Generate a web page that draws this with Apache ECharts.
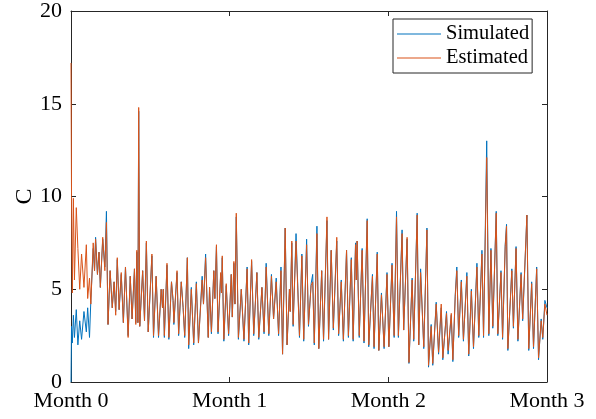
<!DOCTYPE html>
<html>
<head>
<meta charset="utf-8">
<script src="https://cdn.jsdelivr.net/npm/echarts@6/dist/echarts.min.js"></script>
<style>html,body{margin:0;background:#fff}#main{width:596px;height:419px}</style>
</head>
<body>
<div id="main"></div>
<script>
// time in days (0 .. 90 = three months)
var days = [
  0, 0.1, 0.25, 0.45, 0.65, 1.0, 1.3, 1.65, 2.0, 2.45, 2.9, 3.15, 3.5, 3.75, 4.2, 4.45, 4.65, 5.0, 5.3, 5.55,
  6.0, 6.4, 6.7, 7.0, 7.4, 7.8, 8.15, 8.45, 8.75, 9.1, 9.5, 9.9, 10.3, 10.8, 11.2, 11.55, 12.0, 12.25, 12.45, 12.65, 12.8, 13.0,
  13.55, 13.9, 14.25, 14.6, 15.3, 15.6, 16.1, 16.55, 17.05, 17.3, 17.45, 17.65, 18.15, 18.5, 19.0, 19.3, 19.45, 20.05, 20.35, 20.85,
  21.2, 21.5, 22.0, 22.25, 22.75, 23.2, 23.7, 24.1, 24.8, 25.05, 25.45, 25.95,
  26.2, 26.55, 27.0, 27.2, 27.5, 27.8, 28.3, 28.45, 28.6, 28.9, 29.35, 29.8, 30.3, 30.5, 30.8, 31.0, 31.25, 31.65, 32.2, 32.7,
  33.3, 33.6, 34.15, 34.55, 35.15, 35.5, 36.1, 36.5, 36.9, 37.4, 37.9, 38.3, 38.8, 39.25,
  39.7, 40.0, 40.5, 40.85, 41.3, 41.45, 41.75, 42.0, 42.55, 43.2, 43.65, 44.0, 44.55, 44.9, 45.4, 45.7, 46.0, 46.5, 46.85, 47.4,
  47.75, 48.4, 48.7, 49.2, 49.6, 50.25, 50.6, 51.1, 51.5, 52.1, 52.45,
  53.0, 53.35, 53.8, 53.95, 54.1, 54.5, 55.05, 55.4, 56.0, 56.3, 57.0, 57.3, 57.9, 58.2, 58.7, 59.2, 59.75, 60.1, 60.7, 61.1,
  61.55, 61.9, 62.6, 62.9, 63.55, 63.9, 64.5, 64.8, 65.45, 65.75,
  66.1, 66.7, 67.3, 67.6, 68.1, 68.4, 69.05, 69.5, 70.0, 70.3, 71.0, 71.3, 71.9, 72.2, 72.65, 72.95, 73.3, 73.8, 74.2, 74.85,
  75.2, 75.7, 76.1, 76.75, 77.1, 77.7, 78.0, 78.6, 79.0,
  79.4, 79.75, 80.4, 80.7, 81.3, 81.6, 82.1, 82.35, 82.6, 83.35, 83.65, 84.15, 84.5, 85.1, 85.4, 86.2, 86.55, 87.1, 87.45, 88.05,
  88.4, 88.9, 89.2, 89.6, 90.0
];
var simulated = [
  0.0, 3.0, 2.1, 3.6, 2.4, 3.9, 2.0, 3.3, 2.3, 3.8, 2.7, 4.0, 2.4, 4.4, 7.2, 6.0, 7.8, 5.8, 7.0, 5.1,
  7.7, 6.2, 9.2, 3.1, 6.0, 4.0, 5.4, 3.8, 6.6, 3.9, 5.8, 3.2, 6.2, 2.5, 5.7, 3.4, 6.1, 3.2, 7.0, 3.2, 14.6, 3.0,
  6.0, 3.3, 7.5, 2.7, 6.8, 2.4, 5.7, 2.4, 5.0, 4.0, 5.0, 2.4, 6.3, 2.3, 5.4, 4.4, 3.1, 5.9, 2.5, 5.4,
  4.0, 2.4, 6.7, 1.8, 5.1, 2.0, 5.4, 2.1, 5.7, 4.2, 6.9, 2.4,
  5.1, 2.6, 6.0, 4.5, 7.3, 2.6, 5.8, 4.8, 6.7, 2.2, 5.2, 2.5, 5.8, 3.5, 6.4, 4.2, 8.9, 2.3, 5.0, 2.2,
  6.2, 2.0, 6.5, 2.5, 5.9, 2.3, 5.1, 2.6, 6.4, 2.5, 5.8, 3.4, 5.6, 2.5,
  6.2, 1.5, 8.3, 2.0, 5.0, 3.8, 7.5, 3.0, 8.0, 2.4, 6.9, 2.2, 7.7, 3.0, 5.3, 5.8, 2.0, 8.4, 1.8, 6.0,
  2.2, 8.7, 2.3, 7.1, 2.8, 7.6, 2.5, 5.5, 2.2, 7.1, 2.4,
  6.7, 2.2, 7.5, 5.5, 7.6, 2.4, 7.2, 2.1, 8.8, 1.9, 5.8, 1.8, 7.0, 1.7, 4.8, 1.8, 5.9, 1.9, 6.4, 2.4,
  9.2, 2.4, 8.2, 2.8, 7.7, 1.0, 5.6, 2.2, 9.1, 2.0,
  6.1, 1.8, 8.3, 0.8, 3.1, 0.9, 4.3, 1.5, 4.0, 1.2, 3.8, 1.5, 3.6, 1.1, 4.7, 6.2, 2.4, 5.5, 2.2, 5.9,
  1.4, 5.0, 1.8, 6.4, 2.4, 7.1, 2.4, 13.0, 2.5,
  7.2, 2.9, 9.2, 2.5, 6.0, 2.3, 7.4, 8.5, 1.7, 6.1, 2.9, 7.3, 2.2, 5.9, 3.3, 9.0, 1.7, 5.4, 1.8, 6.2,
  1.2, 3.4, 2.3, 4.4, 4.0
];
var estimated = [
  17.2, 10.0, 4.8, 9.9, 5.5, 9.4, 7.2, 5.0, 6.9, 5.1, 7.4, 4.5, 5.6, 4.2, 7.5, 6.0, 7.7, 5.8, 7.0, 5.1,
  7.8, 6.0, 8.6, 3.1, 6.0, 4.0, 5.4, 3.6, 6.7, 3.9, 5.9, 3.2, 6.2, 2.4, 5.7, 3.4, 6.1, 3.1, 7.1, 3.2, 14.8, 3.0,
  6.0, 3.3, 7.6, 2.7, 6.9, 2.5, 5.7, 2.5, 5.0, 4.0, 5.0, 2.5, 6.4, 2.4, 5.4, 4.4, 3.2, 6.0, 2.6, 5.4,
  4.0, 2.5, 6.7, 2.0, 5.0, 2.1, 5.3, 2.1, 5.5, 4.2, 6.7, 2.4,
  5.1, 2.7, 6.0, 4.5, 7.4, 2.7, 5.9, 4.8, 6.8, 2.3, 5.3, 2.6, 5.8, 3.5, 6.5, 4.2, 9.1, 2.4, 5.0, 2.3,
  6.1, 2.1, 6.6, 2.6, 5.9, 2.4, 5.1, 2.7, 6.2, 2.6, 5.7, 3.4, 5.4, 2.6,
  6.0, 1.5, 8.3, 2.0, 5.0, 3.8, 7.6, 3.1, 7.6, 2.5, 6.8, 2.3, 7.4, 3.1, 5.2, 5.4, 2.1, 8.0, 1.8, 6.0,
  2.3, 8.9, 2.3, 7.1, 2.9, 7.8, 2.6, 5.4, 2.3, 7.1, 2.5,
  6.6, 2.3, 7.4, 5.5, 7.6, 2.5, 7.1, 2.2, 8.7, 2.0, 5.7, 1.9, 6.9, 1.7, 4.7, 1.9, 5.8, 1.9, 6.3, 2.5,
  8.9, 2.5, 8.0, 2.8, 7.8, 1.05, 5.5, 2.3, 9.0, 2.0,
  5.9, 1.9, 8.2, 0.9, 3.0, 1.0, 4.2, 1.6, 4.2, 1.3, 3.7, 1.7, 3.7, 1.2, 4.6, 6.0, 2.5, 5.4, 2.3, 5.7,
  1.5, 4.9, 1.9, 6.2, 2.5, 6.9, 2.5, 12.1, 2.6,
  7.1, 3.0, 9.1, 2.6, 5.9, 2.4, 7.3, 8.4, 1.8, 6.0, 3.0, 7.2, 2.3, 5.8, 3.4, 9.0, 1.8, 5.3, 1.9, 6.1,
  1.3, 3.3, 2.4, 4.2, 3.6
];
var monthLabels = ['Month 0', 'Month 1', 'Month 2', 'Month 3'];

var font = 'Liberation Serif';
var axisColor = '#262626';

function pairs(vals) {
  return days.map(function (d, i) { return [d, vals[i]]; });
}

var chart = echarts.init(document.getElementById('main'));

var xBase = {
  type: 'value', min: 0, max: 90, interval: 30,
  axisLine: { show: true, onZero: false, lineStyle: { color: axisColor, width: 1 } },
  axisTick: { show: true, inside: true, length: 5, lineStyle: { color: axisColor } },
  splitLine: { show: false }
};
var yBase = {
  type: 'value', min: 0, max: 20, interval: 5,
  axisLine: { show: true, onZero: false, lineStyle: { color: axisColor, width: 1 } },
  axisTick: { show: true, inside: true, length: 5, lineStyle: { color: axisColor } },
  splitLine: { show: false }
};

chart.setOption({
  animation: false,
  backgroundColor: '#fff',
  textStyle: { fontFamily: font },
  grid: { left: 71, right: 49, top: 8, bottom: 37 },
  legend: {
    data: ['Simulated', 'Estimated'],
    orient: 'vertical',
    left: 393, top: 19,
    padding: [4, 3, 4, 4],
    itemGap: 2,
    itemWidth: 44, itemHeight: 1,
    icon: 'rect',
    backgroundColor: '#fff',
    borderColor: axisColor, borderWidth: 1, borderRadius: 0,
    textStyle: { fontFamily: font, fontSize: 20.5, color: '#000', lineHeight: 22, padding: [0, 0, 0, 0] }
  },
  xAxis: [
    Object.assign({}, xBase, {
      position: 'bottom',
      axisLabel: {
        color: '#000', fontFamily: font, fontSize: 22, margin: 8,
        formatter: function (v) { return monthLabels[Math.round(v / 30)]; }
      }
    }),
    Object.assign({}, xBase, { position: 'top', axisLabel: { show: false } })
  ],
  yAxis: [
    Object.assign({}, yBase, {
      position: 'left',
      name: 'C', nameLocation: 'middle', nameGap: 34, nameRotate: 90,
      nameMoveOverlap: false,
      nameTextStyle: { color: '#000', fontFamily: font, fontSize: 24 },
      axisLabel: { color: '#000', fontFamily: font, fontSize: 22, margin: 9 }
    }),
    Object.assign({}, yBase, { position: 'right', axisLabel: { show: false } })
  ],
  series: [
    {
      name: 'Simulated', type: 'line', data: pairs(simulated),
      showSymbol: false, symbol: 'none',
      itemStyle: { color: '#0072BD' },
      lineStyle: { color: '#0072BD', width: 1 }
    },
    {
      name: 'Estimated', type: 'line', data: pairs(estimated),
      showSymbol: false, symbol: 'none',
      itemStyle: { color: '#D95319' },
      lineStyle: { color: '#D95319', width: 1 }
    }
  ]
});
</script>
</body>
</html>
